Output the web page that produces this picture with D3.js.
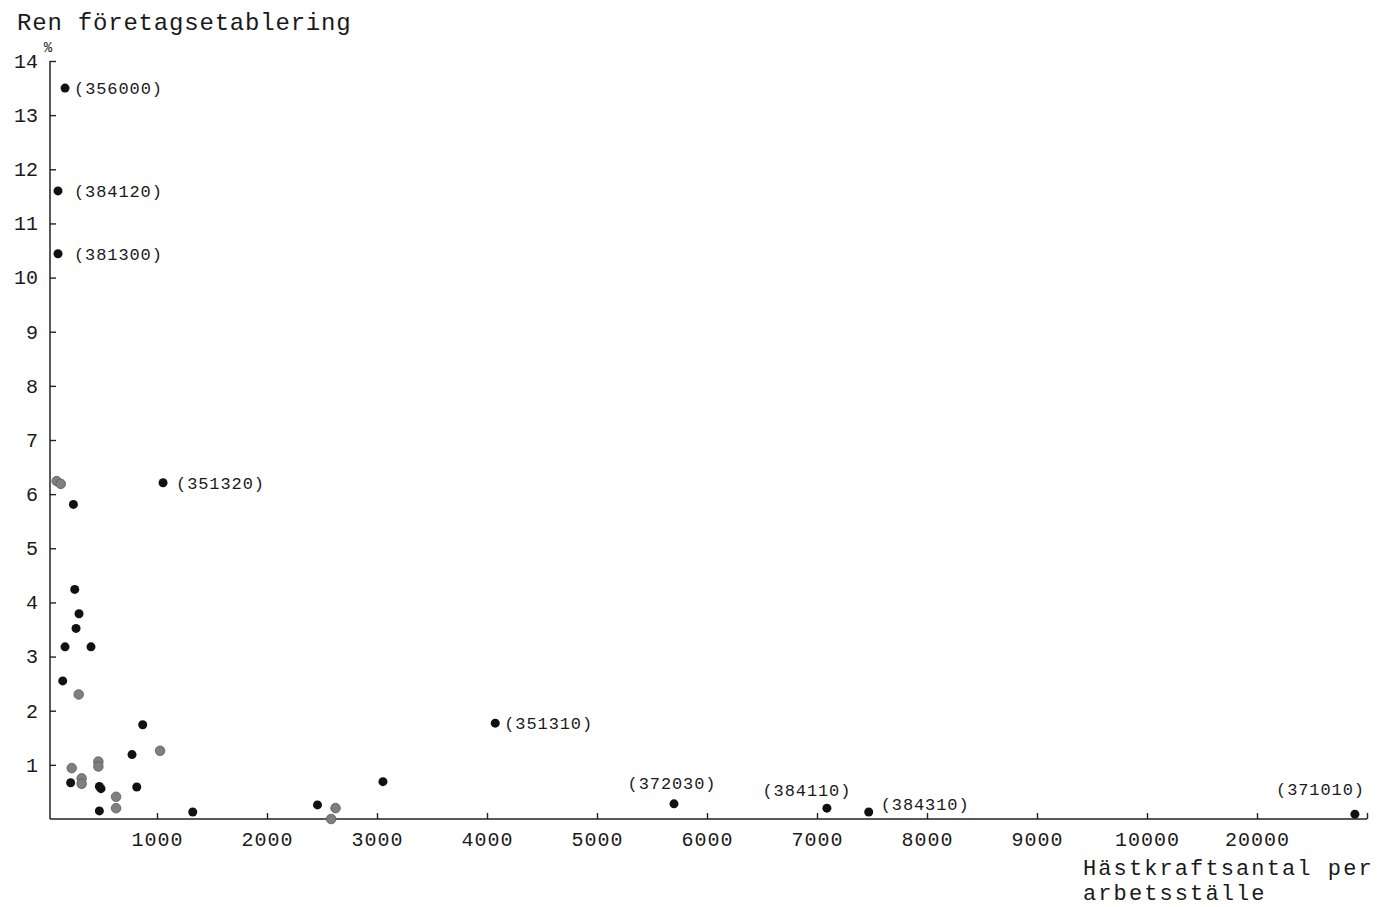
<!DOCTYPE html>
<html>
<head>
<meta charset="utf-8">
<script src="https://cdn.jsdelivr.net/npm/d3@7/dist/d3.min.js"></script>
<style>
  html, body { margin: 0; padding: 0; background: #fff; }
  svg { display: block; }
  text { font-family: "Liberation Mono", "DejaVu Sans Mono", monospace; fill: #1a1a1a; }
</style>
</head>
<body>
<svg id="chart" width="1378" height="907"></svg>
<script>
// ---- data ----
const xTickValues = [1000, 2000, 3000, 4000, 5000, 6000, 7000, 8000, 9000, 10000, 20000];
const xTickLabels = ["1000", "2000", "3000", "4000", "5000", "6000", "7000", "8000", "9000", "10000", "20000"];
const yTickValues = [1, 2, 3, 4, 5, 6, 7, 8, 9, 10, 11, 12, 13, 14];

const blackX = [164, 100, 100, 1055, 240, 252, 291, 264, 164, 400, 143, 870, 773, 215, 476, 491, 816, 476, 1325, 2459, 3054, 4075, 5700, 7090, 7470, 28900];
const blackY = [13.50, 11.60, 10.44, 6.21, 5.81, 4.24, 3.79, 3.52, 3.18, 3.18, 2.55, 1.74, 1.19, 0.67, 0.60, 0.56, 0.59, 0.15, 0.13, 0.26, 0.69, 1.77, 0.28, 0.20, 0.13, 0.09];

const grayX = [88, 125, 288, 1028, 225, 467, 467, 315, 315, 628, 628, 2623, 2583];
const grayY = [6.24, 6.19, 2.30, 1.26, 0.94, 1.06, 0.97, 0.75, 0.65, 0.41, 0.20, 0.20, 0.00];

const labelCodes = ["(356000)", "(384120)", "(381300)", "(351320)", "(351310)", "(372030)", "(384110)", "(384310)", "(371010)"];
const labelX = [164, 100, 100, 1055, 4075, 5700, 7090, 7470, 28900];
const labelY = [13.50, 11.60, 10.44, 6.21, 1.77, 0.28, 0.20, 0.13, 0.09];
const labelPlace = ["right", "rightFar", "rightFar", "rightMid", "right", "above", "aboveLeft", "upRight", "aboveEnd"];

const yTitle = "Ren företagsetablering";
const yUnit = "%";
const xTitleLines = ["Hästkraftsantal per", "arbetsställe"];

// ---- layout ----
const svg = d3.select("#chart");
const axisX = 50, axisY = 819;

const x = d3.scaleLinear()
  .domain([0, 10000, 20000, 30000])
  .range([47, 1147, 1257, 1367]);
const y = d3.scaleLinear().domain([0, 14]).range([axisY, 61]);

// X axis
const xAxis = d3.axisBottom(x)
  .tickValues(xTickValues.concat([30000]))
  .tickFormat(d => { const i = xTickValues.indexOf(d); return i >= 0 ? xTickLabels[i] : ""; })
  .tickSizeInner(-6).tickSizeOuter(0).tickPadding(13);
const gx = svg.append("g").attr("transform", `translate(0,${axisY})`).call(xAxis);
gx.select(".domain").remove();
gx.selectAll(".tick line").attr("stroke", "#222").attr("stroke-width", 1.4);
gx.selectAll(".tick text")
  .attr("font-family", "Liberation Mono")
  .attr("font-size", 20).attr("letter-spacing", "1px").attr("fill", "#1a1a1a");
svg.append("line").attr("x1", axisX).attr("x2", x(30000)).attr("y1", axisY).attr("y2", axisY)
  .attr("stroke", "#222").attr("stroke-width", 1.5);

// Y axis
const yAxis = d3.axisLeft(y)
  .tickValues(yTickValues)
  .tickSizeInner(-6).tickSizeOuter(0).tickPadding(12);
const gy = svg.append("g").attr("transform", `translate(${axisX},0)`).call(yAxis);
gy.select(".domain").remove();
gy.selectAll(".tick line").attr("stroke", "#222").attr("stroke-width", 1.4);
gy.selectAll(".tick text")
  .attr("font-family", "Liberation Mono")
  .attr("font-size", 20).attr("fill", "#1a1a1a");
svg.append("line").attr("x1", axisX).attr("x2", axisX).attr("y1", y(14)).attr("y2", axisY)
  .attr("stroke", "#222").attr("stroke-width", 1.5);

// Titles
svg.append("text").attr("x", 17).attr("y", 30)
  .attr("font-size", 24).attr("letter-spacing", "0.8px").text(yTitle);
svg.append("text").attr("x", 48).attr("y", 52).attr("text-anchor", "middle")
  .attr("font-size", 14).text(yUnit);
svg.append("g").selectAll("text").data(xTitleLines).join("text")
  .attr("x", 1083).attr("y", (d, i) => 875 + i * 25)
  .attr("font-size", 22).attr("letter-spacing", "2.1px").text(d => d);

// Points
const grayPts = grayX.map((v, i) => ({ x: v, y: grayY[i] }));
const blackPts = blackX.map((v, i) => ({ x: v, y: blackY[i] }));

svg.append("g").selectAll("circle").data(grayPts).join("circle")
  .attr("cx", d => x(d.x)).attr("cy", d => y(d.y)).attr("r", 4.8)
  .attr("fill", "#7f7f7f").attr("stroke", "#5a5a5a").attr("stroke-width", 0.8);

svg.append("g").selectAll("circle").data(blackPts).join("circle")
  .attr("cx", d => x(d.x)).attr("cy", d => y(d.y)).attr("r", 4.5)
  .attr("fill", "#111");

// Labels
const offsets = {
  right:     { dx: 9,   dy: 6,   anchor: "start" },
  rightFar:  { dx: 16,  dy: 6,   anchor: "start" },
  rightMid:  { dx: 13,  dy: 6,   anchor: "start" },
  above:     { dx: -2,  dy: -15, anchor: "middle" },
  aboveLeft: { dx: -20, dy: -12, anchor: "middle" },
  upRight:   { dx: 12,  dy: -2,  anchor: "start" },
  aboveEnd:  { dx: 10,  dy: -19, anchor: "end" }
};
const labs = labelCodes.map((c, i) => ({ c, x: labelX[i], y: labelY[i], p: offsets[labelPlace[i]] }));
svg.append("g").selectAll("text").data(labs).join("text")
  .attr("x", d => x(d.x) + d.p.dx).attr("y", d => y(d.y) + d.p.dy)
  .attr("text-anchor", d => d.p.anchor)
  .attr("font-size", 17).attr("letter-spacing", "0.9px")
  .text(d => d.c);
</script>
</body>
</html>
